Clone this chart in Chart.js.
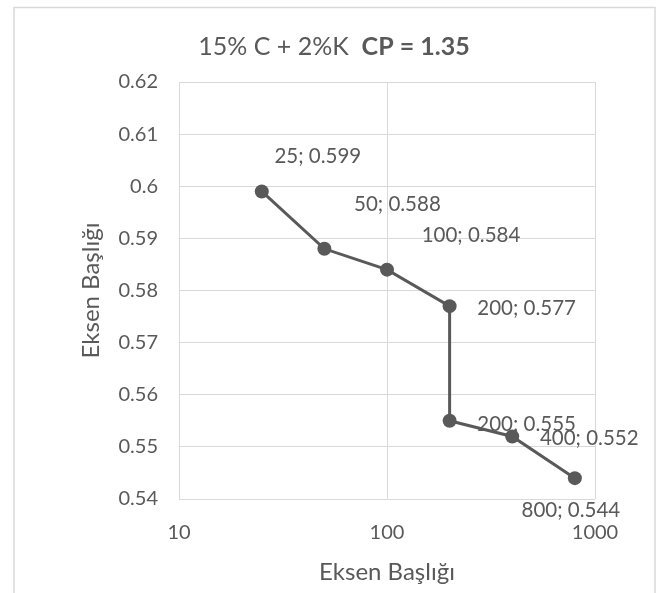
<!DOCTYPE html>
<html>
<head>
<meta charset="utf-8">
<script src="https://cdn.jsdelivr.net/npm/chart.js"></script>
<style>
  html, body { margin: 0; padding: 0; background: #fff; }
  canvas { display: block; }
</style>
</head>
<body>
<canvas id="chart" width="665" height="593"></canvas>
<script>
// Data
const xValues = [25, 50, 100, 200, 200, 400, 800];
const yValues = [0.599, 0.588, 0.584, 0.577, 0.555, 0.552, 0.544];
const xTicks = [10, 100, 1000];
const yTicks = [0.54, 0.55, 0.56, 0.57, 0.58, 0.59, 0.6, 0.61, 0.62];
const titleNormal = '15% C + 2%K  ';
const titleBold = 'CP = 1.35';
const axisTitle = 'Eksen Başlığı';

// label offsets from each point (px), like the hand-placed Excel labels
const labelOffsets = [[56, -35], [73, -44], [84, -34], [77, 2], [77, 4], [77, 2], [-4, 32]];

const textColor = '#595959';
const gridColor = '#d9d9d9';

const frame = {
    id: 'frame',
    beforeDraw(chart){
        const ctx = chart.ctx;
        ctx.save();
        ctx.strokeStyle = gridColor;
        ctx.lineWidth = 1.5;
        ctx.strokeRect(14, 7.5, 641, 600);
        ctx.restore();
    },
    afterDraw(chart){
        const ctx = chart.ctx;
        ctx.save();
        ctx.fillStyle = textColor;
        ctx.textBaseline = 'middle';
        ctx.font = '25px Lato';
        const w1 = ctx.measureText(titleNormal).width;
        ctx.font = 'bold 25px Lato';
        const w2 = ctx.measureText(titleBold).width;
        let x = 334 - (w1 + w2) / 2;
        ctx.textAlign = 'left';
        ctx.font = '25px Lato';
        ctx.fillText(titleNormal, x, 47);
        ctx.font = 'bold 25px Lato';
        ctx.fillText(titleBold, x + w1, 47);
        ctx.restore();
    }
};

const pointLabels = {
    id: 'pointLabels',
    afterDatasetsDraw(chart){
        const ctx = chart.ctx;
        const meta = chart.getDatasetMeta(0);
        ctx.save();
        ctx.fillStyle = textColor;
        ctx.font = '20.5px Lato';
        ctx.textAlign = 'center';
        ctx.textBaseline = 'middle';
        meta.data.forEach((pt, i)=>{
            const off = labelOffsets[i];
            ctx.fillText(xValues[i] + '; ' + yValues[i], pt.x + off[0], pt.y + off[1]);
        });
        ctx.restore();
    }
};

Chart.defaults.font.family = 'Lato';
Chart.defaults.font.size = 20;
Chart.defaults.color = textColor;

new Chart(document.getElementById('chart'), {
    type: 'scatter',
    data: {
        datasets: [{
            data: xValues.map((x, i)=>({x: x, y: yValues[i]})),
            showLine: true,
            borderColor: textColor,
            borderWidth: 3,
            pointRadius: 7,
            pointHoverRadius: 7,
            pointBackgroundColor: textColor,
            pointBorderWidth: 0
        }]
    },
    options: {
        responsive: false,
        animation: false,
        events: [],
        layout: { padding: { top: 82, right: 70, bottom: 0, left: 0 } },
        plugins: {
            legend: { display: false },
            tooltip: { enabled: false },
            title: { display: false }
        },
        scales: {
            x: {
                type: 'logarithmic',
                min: 10,
                max: 1000,
                afterBuildTicks: s => { s.ticks = xTicks.map(v=>({value: v})); },
                afterFit: s => { s.height = 94; },
                grid: { color: gridColor, drawTicks: false },
                border: { display: false },
                ticks: { padding: 22, callback: v => String(v), maxRotation: 0 },
                title: { display: true, text: axisTitle, font: { size: 24 }, padding: { top: 0, bottom: 6 } }
            },
            y: {
                min: 0.54,
                max: 0.62,
                afterBuildTicks: s => { s.ticks = yTicks.map(v=>({value: v})); },
                afterFit: s => { s.width = 179; },
                grid: { color: gridColor, drawTicks: false },
                border: { display: false },
                ticks: { padding: 21, callback: v => String(Number(v.toFixed(2))) },
                title: { display: true, text: axisTitle, font: { size: 24 }, padding: { top: 77, bottom: 0 } }
            }
        }
    },
    plugins: [frame, pointLabels]
});
</script>
</body>
</html>
